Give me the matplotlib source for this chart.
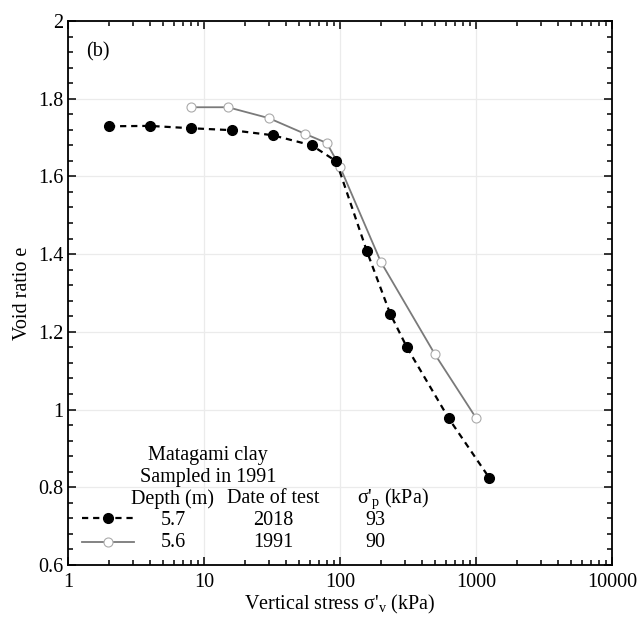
import numpy as np
import matplotlib
matplotlib.use('Agg')
import matplotlib.pyplot as plt
from matplotlib.ticker import FuncFormatter, LogLocator, MultipleLocator

plt.rcParams['font.family'] = ['Liberation Serif', 'DejaVu Serif']
plt.rcParams['mathtext.fontset'] = 'custom'
plt.rcParams['mathtext.rm'] = 'Liberation Serif'
plt.rcParams['mathtext.it'] = 'Liberation Serif:italic'

# 2018 test, depth 5.7 m
stress_2018 = [2, 4, 8, 16, 32, 62, 94, 158, 234, 311, 632, 1250]
e_2018 = [1.729, 1.730, 1.724, 1.719, 1.706, 1.680, 1.639, 1.407, 1.247, 1.160, 0.977, 0.825]

# 1991 test, depth 5.6 m
stress_1991 = [8, 15, 30, 55, 80, 100, 200, 500, 1000]
e_1991 = [1.778, 1.778, 1.750, 1.710, 1.686, 1.625, 1.380, 1.142, 0.979]

depths = ['5.7', '5.6']
test_dates = ['2018', '1991']
sigma_p = ['93', '90']

fs = 14.5

fig = plt.figure(figsize=(6.38, 6.17), dpi=100)
ax = fig.add_axes([0.1066, 0.0843, 0.8524, 0.8817])

l1, = ax.plot(stress_2018, e_2018, color='black', lw=1.6, dashes=(2.8, 2.2),
              marker='o', ms=7, mfc='black', mec='black', zorder=3)
l2, = ax.plot(stress_1991, e_1991, color='#7a7a7a', lw=1.3,
              marker='o', ms=6.5, mfc='white', mec='#ababab', mew=0.8, zorder=2)

ax.set_xscale('log')
ax.set_xlim(1, 10000)
ax.set_ylim(0.6, 2.0)
ax.xaxis.set_major_locator(LogLocator(base=10, numticks=10))
ax.xaxis.set_minor_locator(LogLocator(base=10, subs=np.arange(2, 10), numticks=20))
ax.xaxis.set_major_formatter(FuncFormatter(lambda v, p: '%d' % round(v)))
ax.yaxis.set_major_locator(MultipleLocator(0.2))
ax.yaxis.set_minor_locator(MultipleLocator(0.04))
ax.yaxis.set_major_formatter(FuncFormatter(lambda v, p: '%g' % round(v, 2)))

ax.tick_params(which='both', direction='in', top=True, right=True, labelsize=fs, width=1.1)
ax.tick_params(which='major', length=6)
ax.tick_params(which='minor', length=3.5)
ax.tick_params(axis='x', pad=6)
for s in ax.spines.values():
    s.set_linewidth(1.3)
ax.grid(True, which='major', color='#ebebeb', lw=0.9)
ax.set_axisbelow(True)

ax.set_xlabel("Vertical stress σ'$_\\mathrm{v}$ (kPa)", fontsize=fs, labelpad=0.5)
ax.set_ylabel('Void ratio e', fontsize=fs, labelpad=4)

ax.text(0.033, 0.943, '(b)', transform=ax.transAxes, fontsize=fs, ha='left', va='center')

# legend table
ax.text(0.257, 0.2005, 'Matagami clay', transform=ax.transAxes, fontsize=fs, ha='center', va='center')
ax.text(0.257, 0.1615, 'Sampled in 1991', transform=ax.transAxes, fontsize=fs, ha='center', va='center')
ax.text(0.193, 0.1215, 'Depth (m)', transform=ax.transAxes, fontsize=fs, ha='center', va='center')
ax.text(0.378, 0.1215, 'Date of test', transform=ax.transAxes, fontsize=fs, ha='center', va='center')
ax.text(0.531, 0.1215, "σ'$_\\mathrm{p}$ (kPa)", transform=ax.transAxes, fontsize=fs, ha='left', va='center')

rows_y = [0.081, 0.0405]
for y, d, t, sp in zip(rows_y, depths, test_dates, sigma_p):
    ax.text(0.193, y, d, transform=ax.transAxes, fontsize=fs, ha='center', va='center')
    ax.text(0.378, y, t, transform=ax.transAxes, fontsize=fs, ha='center', va='center')
    ax.text(0.546, y, sp, transform=ax.transAxes, fontsize=fs, ha='left', va='center')

ax.legend([l1, l2], ['', ''], frameon=False, loc='center left',
          bbox_to_anchor=(0.007, 0.0605), handlelength=2.6, labelspacing=0.25,
          fontsize=fs, handletextpad=0, borderpad=0)

fig.savefig('out.png', dpi=100)
